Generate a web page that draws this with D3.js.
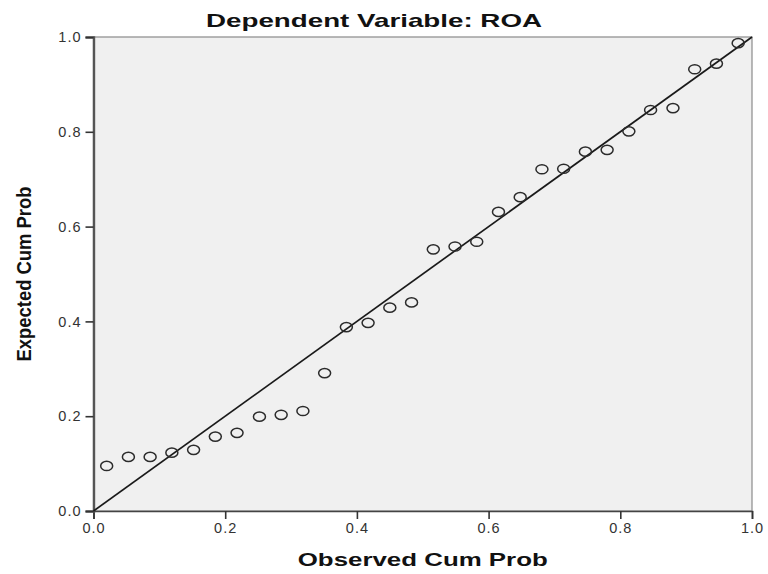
<!DOCTYPE html>
<html>
<head>
<meta charset="utf-8">
<script src="https://cdn.jsdelivr.net/npm/d3@7"></script>
<style>
  body { margin: 0; background: #fff; }
  svg { display: block; }
</style>
</head>
<body>
<div id="chart"></div>
<script>
// observed vs expected cumulative probabilities
const observed = [0.020, 0.053, 0.086, 0.119, 0.152, 0.185, 0.218, 0.252, 0.285, 0.318,
  0.351, 0.384, 0.417, 0.450, 0.483, 0.516, 0.549, 0.582, 0.615, 0.648,
  0.681, 0.714, 0.747, 0.780, 0.813, 0.846, 0.880, 0.913, 0.946, 0.979];
const expected = [0.095, 0.114, 0.114, 0.123, 0.129, 0.157, 0.165, 0.199, 0.203, 0.211,
  0.291, 0.388, 0.397, 0.429, 0.440, 0.552, 0.558, 0.568, 0.631, 0.662,
  0.721, 0.722, 0.758, 0.762, 0.801, 0.846, 0.850, 0.932, 0.944, 0.987];
const tickValues = [0, 0.2, 0.4, 0.6, 0.8, 1.0];
const titleText = "Dependent Variable: ROA";
const xTitle = "Observed Cum Prob";
const yTitle = "Expected Cum Prob";

const width = 768, height = 574;
const margin = { top: 37, right: 16, bottom: 63, left: 93.5 };

const svg = d3.select("#chart").append("svg")
  .attr("width", width)
  .attr("height", height);

const x = d3.scaleLinear().domain([0, 1]).range([margin.left, width - margin.right]);
const y = d3.scaleLinear().domain([0, 1]).range([height - margin.bottom, margin.top]);

// plot background
svg.append("rect")
  .attr("x", x(0)).attr("y", y(1))
  .attr("width", x(1) - x(0)).attr("height", y(0) - y(1))
  .attr("fill", "#f0f0f0")
  .attr("stroke", "#8a8a8a")
  .attr("stroke-width", 1.2);

const fmt = d3.format(".1f");

// axes
const xAxis = svg.append("g")
  .attr("transform", `translate(0,${y(0)})`)
  .call(d3.axisBottom(x).tickValues(tickValues).tickFormat(fmt).tickSize(8).tickPadding(4));

const yAxis = svg.append("g")
  .attr("transform", `translate(${x(0)},0)`)
  .call(d3.axisLeft(y).tickValues(tickValues).tickFormat(fmt).tickSize(8).tickPadding(4));

[xAxis, yAxis].forEach(g => {
  g.selectAll("text")
    .attr("fill", "#333")
    .style("font-family", "'Liberation Sans', Arial, sans-serif")
    .style("font-size", "14.5px")
    .style("letter-spacing", "1px");
  g.selectAll(".tick line").attr("stroke", "#333").attr("stroke-width", 1.6);
});
xAxis.select(".domain").attr("stroke", "#444").attr("stroke-width", 1.6);
yAxis.select(".domain").attr("stroke", "#555").attr("stroke-width", 2.4);

// reference diagonal
svg.append("line")
  .attr("x1", x(0)).attr("y1", y(0))
  .attr("x2", x(1)).attr("y2", y(1))
  .attr("stroke", "#1a1a1a")
  .attr("stroke-width", 1.7);

// points
svg.append("g")
  .selectAll("ellipse")
  .data(d3.zip(observed, expected))
  .join("ellipse")
  .attr("cx", d => x(d[0]))
  .attr("cy", d => y(d[1]))
  .attr("rx", 6)
  .attr("ry", 4.6)
  .attr("fill", "none")
  .attr("stroke", "#2b2b2b")
  .attr("stroke-width", 1.5);

// titles
svg.append("text")
  .attr("x", 374).attr("y", 27)
  .attr("text-anchor", "middle")
  .attr("textLength", 336)
  .attr("lengthAdjust", "spacingAndGlyphs")
  .style("font-family", "'Liberation Sans', Arial, sans-serif")
  .style("font-weight", "bold")
  .style("font-size", "19px")
  .attr("fill", "#111")
  .text(titleText);

svg.append("text")
  .attr("x", (x(0) + x(1)) / 2).attr("y", 566)
  .attr("text-anchor", "middle")
  .attr("textLength", 250)
  .attr("lengthAdjust", "spacingAndGlyphs")
  .style("font-family", "'Liberation Sans', Arial, sans-serif")
  .style("font-weight", "bold")
  .style("font-size", "18px")
  .attr("fill", "#111")
  .text(xTitle);

svg.append("text")
  .attr("transform", `translate(31,274) rotate(-90)`)
  .attr("text-anchor", "middle")
  .attr("textLength", 175)
  .attr("lengthAdjust", "spacingAndGlyphs")
  .style("font-family", "'Liberation Sans Narrow', 'Arial Narrow', 'Liberation Sans', sans-serif")
  .style("font-weight", "bold")
  .style("font-size", "21px")
  .attr("fill", "#111")
  .text(yTitle);
</script>
</body>
</html>
